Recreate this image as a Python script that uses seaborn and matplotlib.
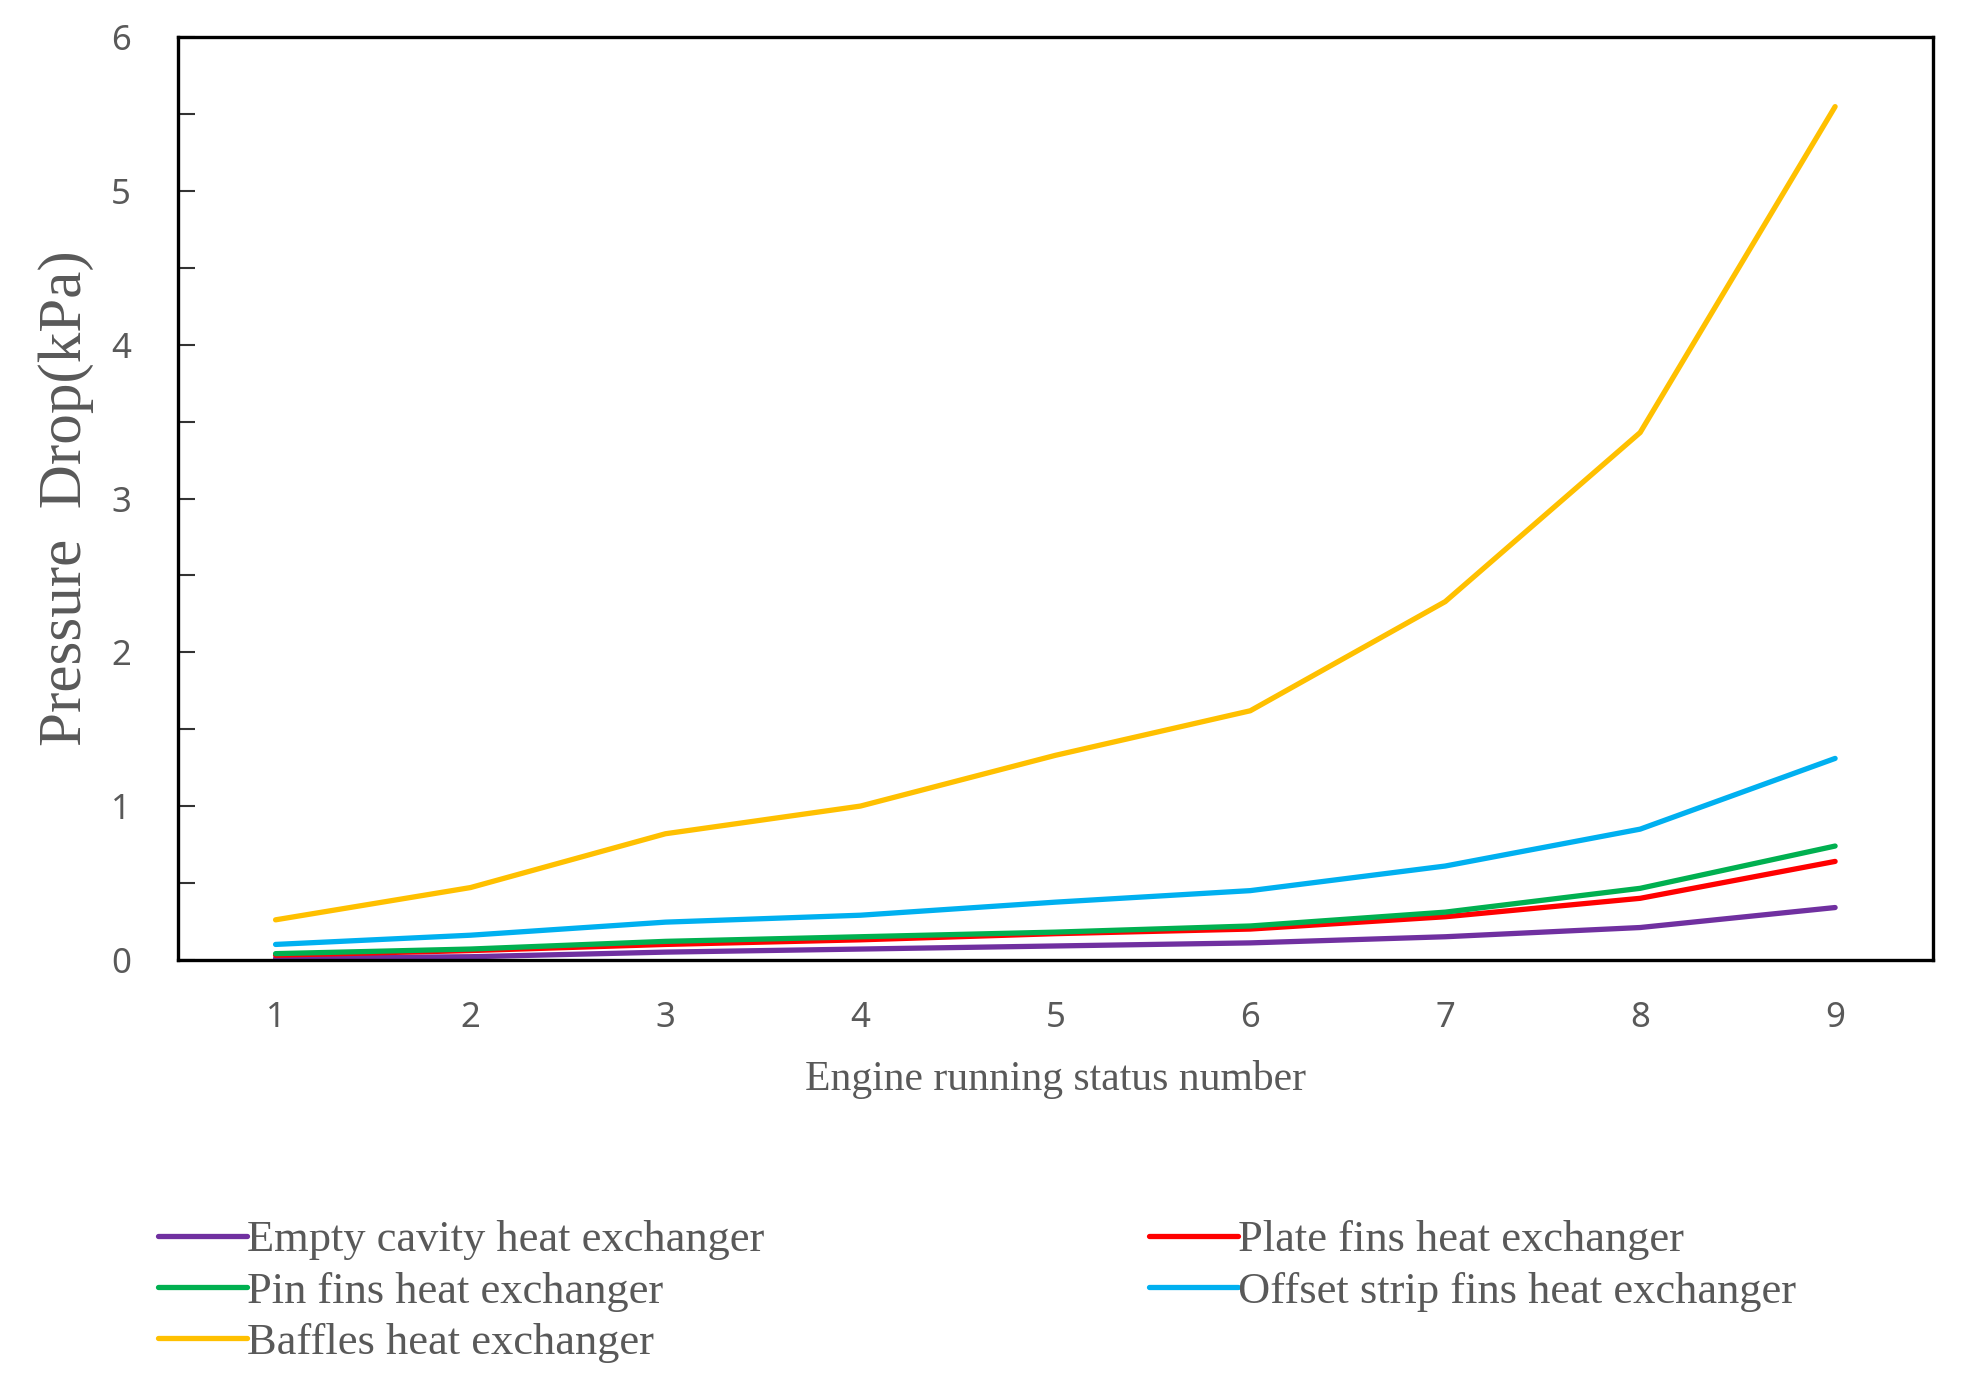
import pandas as pd
import matplotlib
matplotlib.use('Agg')
import matplotlib.pyplot as plt
import seaborn as sns
from matplotlib.ticker import MultipleLocator

sns.set_style('white')

# 데이터
status = [1, 2, 3, 4, 5, 6, 7, 8, 9]
empty_cavity = [0.01, 0.02, 0.05, 0.07, 0.09, 0.11, 0.15, 0.21, 0.34]
plate_fins = [0.03, 0.06, 0.10, 0.13, 0.17, 0.20, 0.28, 0.40, 0.64]
pin_fins = [0.04, 0.07, 0.12, 0.15, 0.18, 0.22, 0.31, 0.465, 0.74]
offset_strip = [0.10, 0.16, 0.245, 0.29, 0.375, 0.45, 0.61, 0.85, 1.31]
baffles = [0.26, 0.47, 0.82, 1.00, 1.33, 1.62, 2.33, 3.43, 5.55]

names = ['Empty cavity heat exchanger', 'Plate fins heat exchanger',
         'Pin fins heat exchanger', 'Offset strip fins heat exchanger',
         'Baffles heat exchanger']
colors = ['#7030A0', '#FF0000', '#00B050', '#00B0F0', '#FFC000']

series = [empty_cavity, plate_fins, pin_fins, offset_strip, baffles]
df = pd.concat([pd.DataFrame({'status': status, 'dp': v, 'type': n})
                for n, v in zip(names, series)], ignore_index=True)

fig = plt.figure(figsize=(19.68, 13.87), dpi=100)
ax = fig.add_axes([0.0905, 0.308, 0.8915, 0.665])

sns.lineplot(data=df, x='status', y='dp', hue='type', hue_order=names,
             palette=colors, linewidth=3.8, ax=ax)

ax.set_xlim(0.5, 9.5)
ax.set_ylim(0, 6)
ax.set_xticks(status)
ax.yaxis.set_major_locator(MultipleLocator(1))
ax.yaxis.set_minor_locator(MultipleLocator(0.5))

gray = '#595959'
ax.tick_params(axis='y', which='both', direction='in', length=12, width=1.5,
               color='#333333', pad=34, labelsize=25, labelcolor=gray, left=True)
ax.tick_params(axis='x', length=0, pad=30, labelsize=25, labelcolor=gray)
for lab in ax.get_xticklabels() + ax.get_yticklabels():
    lab.set_fontfamily('Noto Sans')

for s in ax.spines.values():
    s.set_color('black')
    s.set_linewidth(2.4)

ax.set_xlabel('Engine running status number', fontsize=30, color=gray,
              family='Liberation Serif', labelpad=18)
ax.set_ylabel('Pressure  Drop(kPa)', fontsize=44, color=gray,
              family='Liberation Serif', labelpad=12)

# 범례: 열 우선 순서 (Empty, Pin, Baffles / Plate, Offset)
handles, labels = ax.get_legend_handles_labels()
ax.get_legend().remove()
order = [0, 2, 4, 1, 3]
leg = fig.legend([handles[i] for i in order], [labels[i] for i in order],
                 loc='upper left', bbox_to_anchor=(0.06, 0.149),
                 ncol=2, frameon=False, handlelength=2.0, handletextpad=0.0,
                 columnspacing=8.65, labelspacing=0.25,
                 prop={'family': 'Liberation Serif', 'size': 32})
for t in leg.get_texts():
    t.set_color(gray)
for h in leg.get_lines():
    h.set_linewidth(3.8)

fig.savefig('out.png', dpi=100)
